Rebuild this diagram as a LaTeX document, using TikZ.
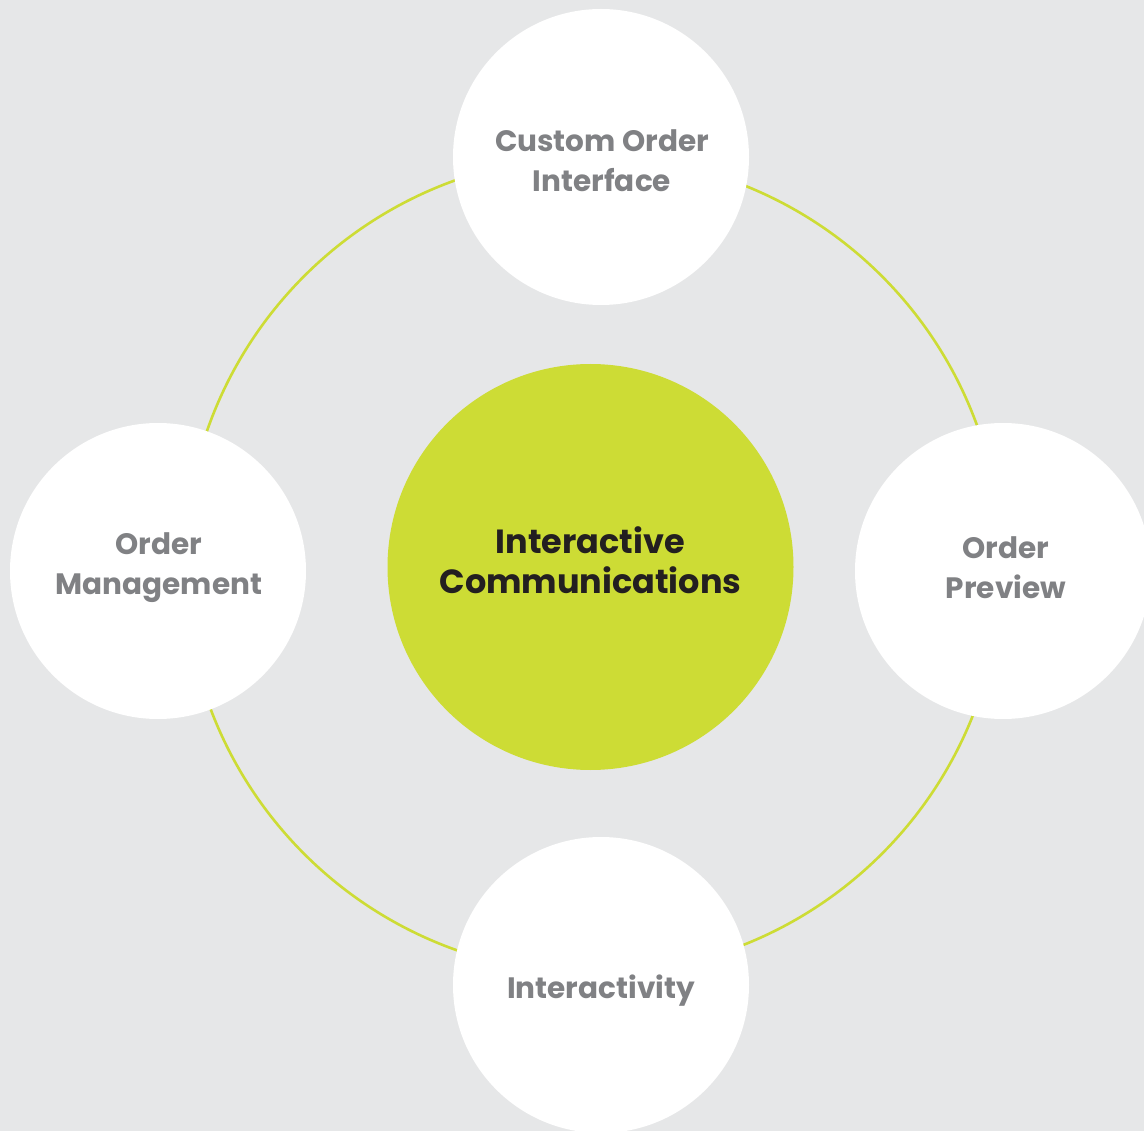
\documentclass[tikz,border=0pt]{standalone}
\usepackage{fontspec}
\setmainfont{Poppins}
\definecolor{bgcol}{HTML}{E6E7E8}
\definecolor{lime}{HTML}{CDDC35}
\definecolor{labelgray}{HTML}{808184}
\definecolor{darktext}{HTML}{231F20}
\begin{document}
\begin{tikzpicture}[x=1pt,y=-1pt,
  satellite/.style={circle, fill=white, minimum size=296pt, inner sep=0pt},
  hub/.style={circle, fill=lime, minimum size=406pt, inner sep=0pt},
  satlabel/.style={text=labelgray, font=\fontsize{29.5}{40}\selectfont\bfseries, align=center, inner sep=0pt},
  hublabel/.style={text=darktext, font=\fontsize{33.5}{40}\selectfont\bfseries, align=center, inner sep=0pt},
  ring/.style={draw=lime, line width=2.6pt}]
  \useasboundingbox (0,0) rectangle (1144,1131);
  \clip (0,0) rectangle (1144,1131);
  \fill[bgcol] (0,0) rectangle (1144,1131);

  % orbit ring behind the satellites
  \coordinate (orbit) at (593,565);
  \draw[ring] (orbit) circle[radius=408.5];

  % central hub
  \node[hub] (hub) at (590.5,567) {};
  \node[hublabel] (hubtext) at (590.5,560) {Interactive\\Communications};

  % satellites
  \node[satellite] (top) at (601,157) {};
  \node[satellite] (left) at (158,571) {};
  \node[satellite] (right) at (1003,571) {};
  \node[satellite] (bottom) at (601,985) {};

  \node[satlabel] (toptext) at (602,161) {Custom Order\\Interface};
  \node[satlabel] (lefttext) at (159,568) {Order\\Management};
  \node[satlabel] (righttext) at (1006,568) {Order\\Preview};
  \node[satlabel] (bottomtext) at (601,991) {Interactivity};
\end{tikzpicture}
\end{document}
